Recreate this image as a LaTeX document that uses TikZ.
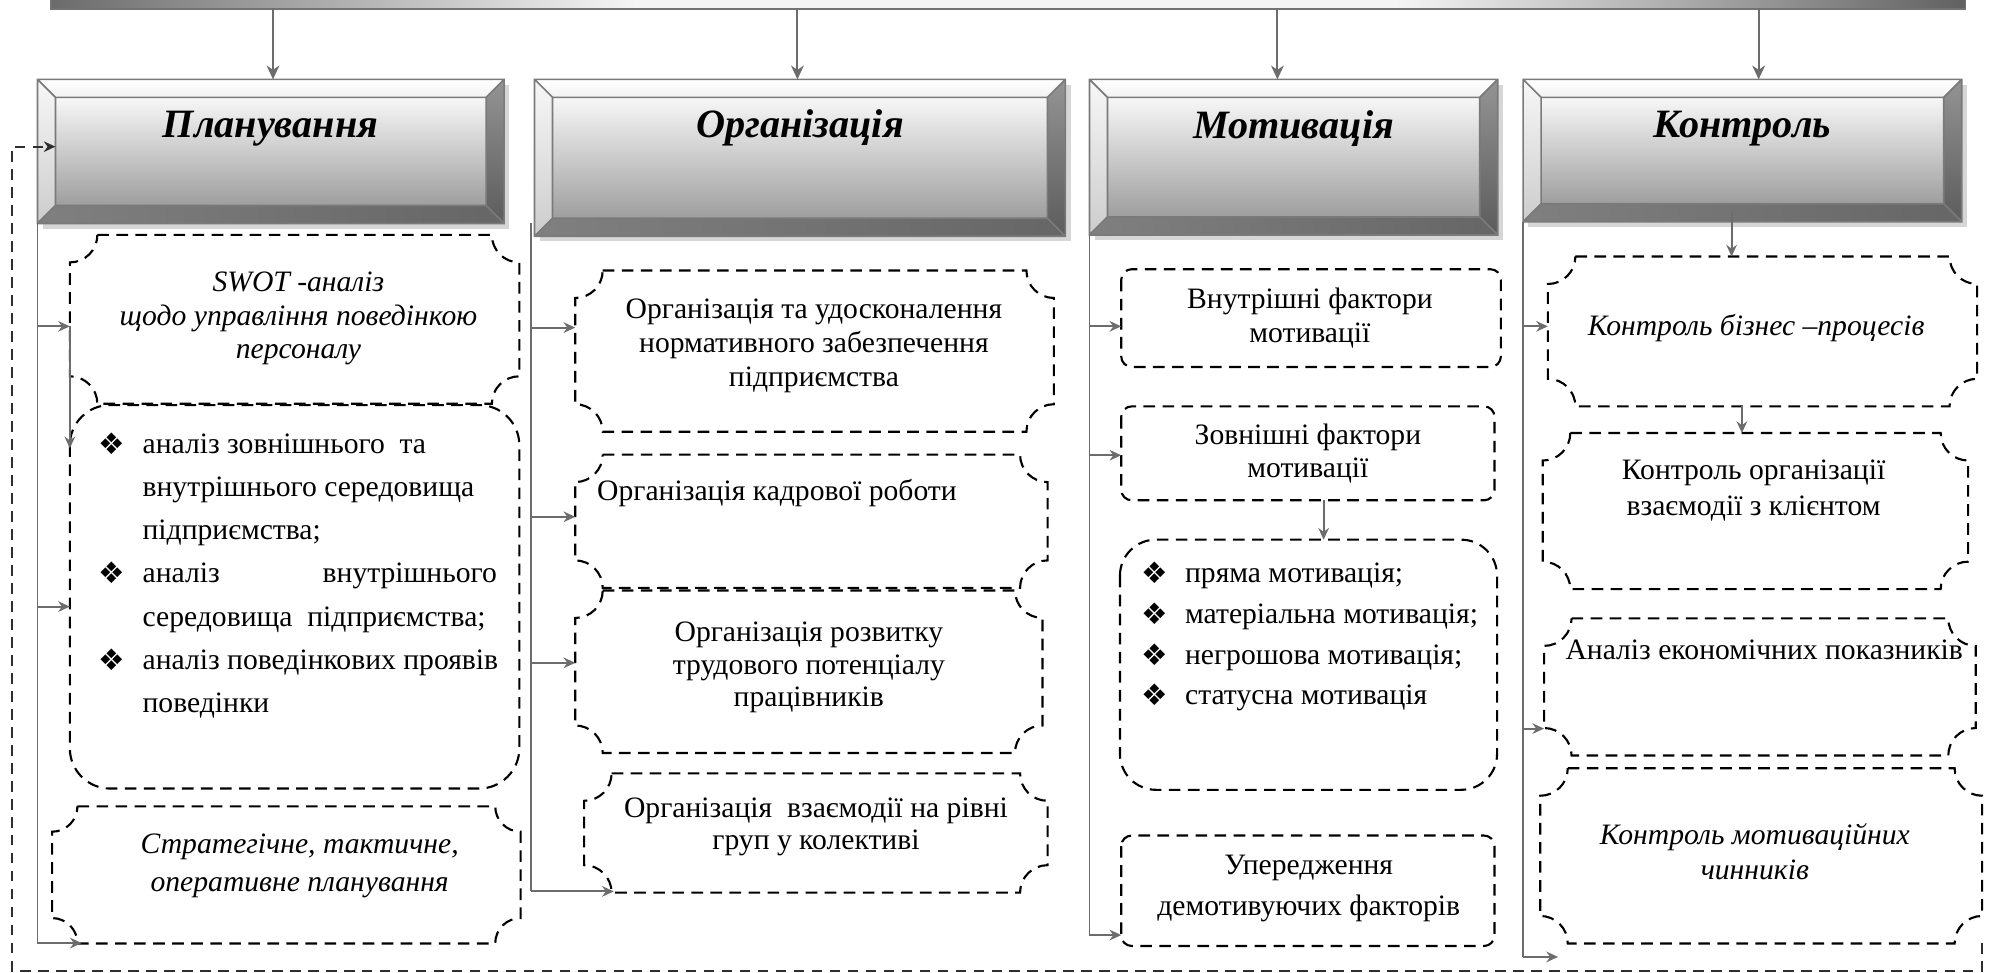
\documentclass[tikz,border=0pt]{standalone}
\usepackage{fontspec}
\setmainfont{Liberation Serif}
\newfontfamily\symf{DejaVu Sans}
\usetikzlibrary{arrows.meta,calc}
\definecolor{conn}{RGB}{108,108,108}
\newcommand\tlines[2]{\begin{tabular}[t]{@{}#1@{}}#2\end{tabular}}
\newcommand\bul[1]{\makebox[#1][l]{\raisebox{-0.5pt}{\symf\fontsize{14}{14}\selectfont ❖}}}
\newcommand\mkbox[5]{\node[anchorbox, minimum width={(#4-#2)*0.6pt}, minimum height={(#5-#3)*0.6pt}] (#1) at ({(#2+#4)/2},{(#3+#5)/2}) {};}
\newcommand\plaque[2]{\draw[boxline] ([xshift=#2]#1.north west) -- ([xshift=-#2]#1.north east) arc[start angle=180,end angle=270,radius=#2] -- ([yshift=#2]#1.south east) arc[start angle=90,end angle=180,radius=#2] -- ([xshift=#2]#1.south west) arc[start angle=0,end angle=90,radius=#2] -- ([yshift=-#2]#1.north west) arc[start angle=270,end angle=360,radius=#2] -- cycle;}
\newcommand\rbox[2]{\draw[boxline, rounded corners=#2] (#1.north west) rectangle (#1.south east);}
\newcommand\bevel[1]{%
 \fill[black!16] ($(#1.north west)+(2.5pt,-2.5pt)$) rectangle ($(#1.south east)+(2.5pt,-2.5pt)$);
 \coordinate (#1-inw) at ($(#1.north west)+(8.5pt,-8.5pt)$);
 \coordinate (#1-ine) at ($(#1.north east)+(-8.5pt,-8.5pt)$);
 \coordinate (#1-ise) at ($(#1.south east)+(-8.5pt,8.5pt)$);
 \coordinate (#1-isw) at ($(#1.south west)+(8.5pt,8.5pt)$);
 \path[top color=white, bottom color=black!5] (#1.north west) -- (#1.north east) -- (#1-ine) -- (#1-inw) -- cycle;
 \path[top color=black!3, bottom color=black!20] (#1.north west) -- (#1-inw) -- (#1-isw) -- (#1.south west) -- cycle;
 \path[top color=black!42, bottom color=black!64] (#1.north east) -- (#1.south east) -- (#1-ise) -- (#1-ine) -- cycle;
 \path[left color=black!50, right color=black!60] (#1.south west) -- (#1-isw) -- (#1-ise) -- (#1.south east) -- cycle;
 \path[top color=black!3, bottom color=black!38] (#1-inw) rectangle (#1-ise);
 \draw[bevline] (#1.north west) rectangle (#1.south east) (#1-inw) rectangle (#1-ise) (#1.north west) -- (#1-inw) (#1.north east) -- (#1-ine) (#1.south east) -- (#1-ise) (#1.south west) -- (#1-isw);
}
\tikzset{
 anchorbox/.style={inner sep=0pt, outer sep=0pt, draw=none},
 conn/.style={draw=conn, line width=0.9pt},
 arr/.style={conn, -{Stealth[length=5.5pt,width=5pt,inset=1.8pt]}},
 bigarr/.style={conn, -{Stealth[length=6.5pt,width=6pt,inset=2pt]}},
 boxline/.style={draw=black, line width=1pt, dash pattern=on 5.5pt off 3.5pt},
 fbline/.style={draw=black!82, line width=1pt, dash pattern=on 5pt off 3.5pt, -{Stealth[length=5.5pt,width=5pt,inset=1.8pt]}},
 bevline/.style={draw=black!52, line width=0.8pt},
 txt/.style={inner sep=0pt, anchor=base, font=\fontsize{14}{#1}\selectfont},
 itxt/.style={inner sep=0pt, anchor=base, font=\fontsize{14}{#1}\selectfont\itshape},
 ttl/.style={inner sep=0pt, anchor=base, font=\fontsize{19}{22}\selectfont\bfseries\itshape},
}
\begin{document}
\begin{tikzpicture}[x=0.6pt,y=-0.6pt]
\useasboundingbox (0,0) rectangle (1568,766);
% top bar
\node[anchorbox, minimum width=904.8pt, minimum height=7.2pt] (bar) at (794,1) {};
\coordinate (bq1) at (500,7);
\coordinate (bq2) at (1100,-5);
\path[left color=black!58, right color=black!4] (bar.north west) rectangle (bq1);
\path[fill=black!4] (bq1 |- bar.north) rectangle (bq2 |- bar.south);
\path[left color=black!4, right color=black!62] (bq2) rectangle (bar.south east);
\draw[black!55, line width=0.7pt] (bar.north west) -- (bar.south west) -- (bar.south east) -- (bar.north east);
% headers
\mkbox{h1}{29.5}{62.5}{397}{176}
\mkbox{h2}{421}{62.5}{839}{186}
\mkbox{h3}{858}{62.5}{1179.5}{185}
\mkbox{h4}{1199.5}{62.5}{1545}{174.6}
\bevel{h1}\bevel{h2}\bevel{h3}\bevel{h4}
\node[ttl] (h1-t) at (213,108) {Планування};
\node[ttl] (h2-t) at (630,108) {Організація};
\node[ttl] (h3-t) at (1018.7,109) {Мотивація};
\node[ttl] (h4-t) at (1372,108) {Контроль};
% arrows from bar
\coordinate (a1) at (215,7);
\coordinate (a2) at (628,7);
\coordinate (a3) at (1006,7);
\coordinate (a4) at (1385,7);
\draw[bigarr] (a1) -- (a1 |- h1.north);
\draw[bigarr] (a2) -- (a2 |- h2.north);
\draw[bigarr] (a3) -- (a3 |- h3.north);
\draw[bigarr] (a4) -- (a4 |- h4.north);
% boxes
\mkbox{swot}{55}{185}{409}{318}
\mkbox{c1l}{55}{319}{409}{621}
\mkbox{strat}{41}{635}{410}{743}
\mkbox{o1}{453}{213}{830}{340}
\mkbox{o2}{453}{358}{825}{463}
\mkbox{o3}{453}{465}{821}{593}
\mkbox{o4}{460}{609}{825}{703}
\mkbox{m1}{883}{212}{1182}{289}
\mkbox{m2}{883}{320}{1177}{394}
\mkbox{m3}{882}{425}{1179}{622}
\mkbox{m4}{883}{658}{1177}{745}
\mkbox{k1}{1219}{202}{1557}{320}
\mkbox{k2}{1215}{341}{1550}{464}
\mkbox{k3}{1216}{487}{1556}{595}
\mkbox{k4}{1213}{605}{1561}{743}
\plaque{swot}{13pt}
\rbox{c1l}{19pt}
\plaque{strat}{12pt}
\plaque{o1}{13pt}\plaque{o2}{13pt}\plaque{o3}{13pt}\plaque{o4}{13pt}
\rbox{m1}{5pt}\rbox{m2}{5pt}\rbox{m3}{17pt}\rbox{m4}{5pt}
\plaque{k1}{13pt}\plaque{k2}{13pt}\plaque{k3}{13pt}\plaque{k4}{13pt}
% texts
\node[itxt=15.9] (swot-t) at (235,229.7) {\tlines{c}{SWOT -аналіз\\ щодо управління поведінкою\\ персоналу}};
\node[txt=20.4, anchor=base west] (c1l-t) at (77,357) {\tlines{l@{}l}{%
\bul{21pt} & аналіз зовнішнього~\ та\\
 & внутрішнього середовища\\
 & підприємства;\\
\bul{21pt} & \hbox to 167.4pt{аналіз\hfill внутрішнього}\\
 & середовища~\ підприємства;\\
\bul{21pt} & аналіз поведінкових проявів\\
 & поведінки}};
\node[itxt=18] (strat-t) at (236,672) {\tlines{c}{Стратегічне, тактичне,\\ оперативне планування}};
\node[txt=16.2] (o1-t) at (641,250.5) {\tlines{c}{Організація та удосконалення\\ нормативного забезпечення\\ підприємства}};
\node[txt=16.2, anchor=base west] (o2-t) at (470,394) {Організація кадрової роботи};
\node[txt=15.3] (o3-t) at (637,505.4) {\tlines{c}{Організація розвитку\\ трудового потенціалу\\ працівників}};
\node[txt=15] (o4-t) at (642.6,644) {\tlines{c}{Організація~\ взаємодії на рівні\\ груп у колективі}};
\node[txt=16.4] (m1-t) at (1031.6,242.6) {\tlines{c}{Внутрішні фактори\\ мотивації}};
\node[txt=15.6] (m2-t) at (1030,350) {\tlines{c}{Зовнішні фактори\\ мотивації}};
\node[txt=19.2, anchor=base west] (m3-t) at (898.8,459) {\tlines{l@{}l}{%
\bul{20.5pt} & пряма мотивація;\\
\bul{20.5pt} & матеріальна мотивація;\\
\bul{20.5pt} & негрошова мотивація;\\
\bul{20.5pt} & статусна мотивація}};
\node[txt=19.2] (m4-t) at (1030.7,688.6) {\tlines{c}{Упередження\\ демотивуючих факторів}};
\node[itxt=16.8] (k1-t) at (1383,264) {Контроль бізнес –процесів};
\node[txt=16.8] (k2-t) at (1381,378) {\tlines{c}{Контроль організації\\ взаємодії з клієнтом}};
\node[txt=16.8, anchor=base west] (k3-t) at (1232.6,519.7) {Аналіз економічних показників};
\node[itxt=16.8] (k4-t) at (1382,665) {\tlines{c}{Контроль мотиваційних\\ чинників}};
% column 1 connectors
\coordinate (b1a) at (29.5,257);
\coordinate (b1b) at (29.5,477.7);
\coordinate (b1c) at (29.5,742.7);
\draw[conn] (h1.south west) -- (b1c);
\draw[arr] (b1a) -- (b1a -| swot.west);
\draw[arr] (b1b) -- (b1b -| c1l.west);
\draw[arr] (b1c) -- ($(b1c -| strat.west)+(14pt,0)$);
\draw[arr] (b1a -| swot.west) -- ($(c1l.north west)+(0,-20.4pt)$);
% column 2 connectors
\coordinate (c2s) at (418.5,176);
\coordinate (b2a) at (418.5,258);
\coordinate (b2b) at (418.5,407);
\coordinate (b2c) at (418.5,522);
\coordinate (b2d) at (418.5,702);
\draw[conn] (c2s) -- (b2d);
\draw[arr] (b2a) -- (b2a -| o1.west);
\draw[arr] (b2b) -- (b2b -| o2.west);
\draw[arr] (b2c) -- (b2c -| o3.west);
\draw[arr] (b2d) -- ($(b2d -| o4.west)+(14pt,0)$);
% column 3 connectors
\coordinate (b3a) at (858,257);
\coordinate (b3b) at (858,358.5);
\coordinate (b3c) at (858,736.4);
\draw[conn] (h3.south west) -- (b3c);
\draw[arr] (b3a) -- (b3a -| m1.west);
\draw[arr] (b3b) -- (b3b -| m2.west);
\draw[arr] (b3c) -- (b3c -| m4.west);
\coordinate (d3) at (1042.4,394);
\draw[arr] (d3) -- (d3 |- m3.north);
% column 4 connectors
\coordinate (b4a) at (1199.5,257);
\coordinate (b4b) at (1199.5,573.8);
\coordinate (b4c) at (1199.5,753.6);
\coordinate (b4e) at (1227,753.6);
\draw[conn] (h4.south west) -- (b4c);
\draw[arr] (b4a) -- (b4a -| k1.west);
\draw[arr] (b4b) -- (b4b -| k3.west);
\draw[arr] (b4c) -- (b4e);
\coordinate (d4a) at (1363.7,166.7);
\draw[arr] (d4a) -- (d4a |- k1.north);
\coordinate (d4b) at (1371.8,320);
\draw[arr] (d4b) -- (d4b |- k2.north);
% feedback loop
\coordinate (f1) at (1561,764.5);
\coordinate (f2) at (9.5,764.5);
\coordinate (f3) at (9.5,115.5);
\draw[fbline] (k4.south east) -- (f1) -- (f2) -- (f3) -- (f3 -| h1-inw);
\end{tikzpicture}
\end{document}
